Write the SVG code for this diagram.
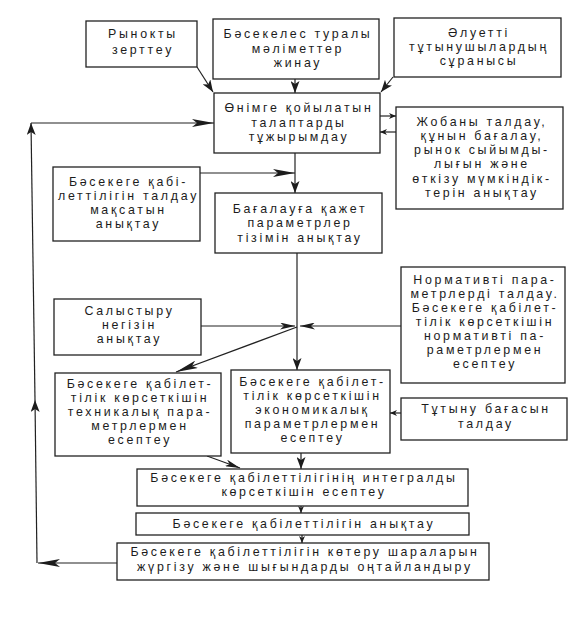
<svg xmlns="http://www.w3.org/2000/svg" width="577" height="619" viewBox="0 0 577 619">
<style>
.b{fill:#fff;stroke:#222;stroke-width:1.3}
.t{font-family:"Liberation Sans",Arial,sans-serif;font-size:12.4px;letter-spacing:2.7px;text-anchor:middle;fill:#1c1c1c}
.c{fill:none;stroke:#222;stroke-width:1.2}
</style>
<defs>
<marker id="aL" markerUnits="userSpaceOnUse" viewBox="0 0 22 8" markerWidth="22" markerHeight="8" refX="22" refY="4" orient="auto"><path d="M0,0 L22,4 L0,8 L5,4 z" fill="#1c1c1c"/></marker>
<marker id="aM" markerUnits="userSpaceOnUse" viewBox="0 0 12 9" markerWidth="12" markerHeight="9" refX="12" refY="4.5" orient="auto"><path d="M0,0 L12,4.5 L0,9 L3,4.5 z" fill="#1c1c1c"/></marker>
<marker id="aK" markerUnits="userSpaceOnUse" viewBox="0 0 15 7" markerWidth="15" markerHeight="7" refX="15" refY="3.5" orient="auto"><path d="M0,0 L15,3.5 L0,7 L4,3.5 z" fill="#1c1c1c"/></marker>
<marker id="aS" markerUnits="userSpaceOnUse" viewBox="0 0 7 6" markerWidth="7" markerHeight="6" refX="7" refY="3" orient="auto"><path d="M0,0 L7,3 L0,6 L2,3 z" fill="#1c1c1c"/></marker>
</defs>
<rect width="577" height="619" fill="#fff"/>
<g id="connectors">
<line class="c" x1="197" y1="67" x2="213" y2="92" marker-end="url(#aM)"/>
<line class="c" x1="295" y1="79" x2="295" y2="93" marker-end="url(#aM)"/>
<line class="c" x1="393" y1="77" x2="381" y2="92" marker-end="url(#aM)"/>
<line class="c" x1="380" y1="116" x2="396" y2="116" marker-end="url(#aS)"/>
<line class="c" x1="396" y1="132" x2="380" y2="132" marker-end="url(#aS)"/>
<line class="c" x1="31" y1="123" x2="214" y2="123" marker-end="url(#aL)"/>
<line class="c" x1="37" y1="563" x2="35" y2="400" marker-end="url(#aM)"/>
<line class="c" x1="35" y1="400" x2="31" y2="123" marker-end="url(#aM)"/>
<line class="c" x1="117" y1="563" x2="38" y2="563" marker-end="url(#aL)"/>
<line class="c" x1="295" y1="153" x2="295" y2="193" marker-end="url(#aM)"/>
<line class="c" x1="200" y1="173" x2="295" y2="173" marker-end="url(#aL)"/>
<line class="c" x1="297" y1="253" x2="297" y2="370" marker-end="url(#aM)"/>
<line class="c" x1="201" y1="326" x2="295" y2="326" marker-end="url(#aK)"/>
<line class="c" x1="401" y1="326" x2="300" y2="326" marker-end="url(#aK)"/>
<line class="c" x1="297" y1="327" x2="176" y2="372" marker-end="url(#aL)"/>
<line class="c" x1="401" y1="413" x2="390" y2="413" marker-end="url(#aS)"/>
<line class="c" x1="207" y1="456" x2="240" y2="468" marker-end="url(#aK)"/>
<line class="c" x1="301" y1="453" x2="301" y2="469" marker-end="url(#aM)"/>
<line class="c" x1="301" y1="506" x2="301" y2="513" marker-end="url(#aS)"/>
<line class="c" x1="302" y1="535" x2="302" y2="543" marker-end="url(#aS)"/>
</g>
<g id="n1"><rect class="b" x="86" y="21" width="111" height="46"/><text class="t"><tspan x="143" y="38">Рынокты</tspan><tspan x="143" y="54">зерттеу</tspan></text></g>
<g id="n2"><rect class="b" x="213" y="19" width="166" height="60"/><text class="t"><tspan x="298" y="38">Бәсекелес туралы</tspan><tspan x="298" y="53">мәліметтер</tspan><tspan x="298" y="67">жинау</tspan></text></g>
<g id="n3"><rect class="b" x="394" y="18" width="167" height="59"/><text class="t"><tspan x="479" y="37">Әлуетті</tspan><tspan x="479" y="51">тұтынушылардың</tspan><tspan x="479" y="65">сұранысы</tspan></text></g>
<g id="n4"><rect class="b" x="214" y="93" width="166" height="60"/><text class="t"><tspan x="299" y="112">Өнімге қойылатын</tspan><tspan x="299" y="127">талаптарды</tspan><tspan x="299" y="141">тұжырымдау</tspan></text></g>
<g id="n5"><rect class="b" x="396" y="107" width="167" height="102"/><text class="t"><tspan x="482" y="125.5">Жобаны талдау,</tspan><tspan x="482" y="139.8">құнын бағалау,</tspan><tspan x="482" y="154.1">рынок сыйымды-</tspan><tspan x="482" y="168.4">лығын және</tspan><tspan x="482" y="182.7">өткізу мүмкіндік-</tspan><tspan x="482" y="197">терін анықтау</tspan></text></g>
<g id="n6"><rect class="b" x="53" y="167" width="147" height="74"/><text class="t"><tspan x="128.5" y="186">Бәсекеге қабі-</tspan><tspan x="128.5" y="200">леттілігін талдау</tspan><tspan x="128.5" y="214">мақсатын</tspan><tspan x="128.5" y="228">анықтау</tspan></text></g>
<g id="n7"><rect class="b" x="215" y="193" width="167" height="60"/><text class="t"><tspan x="300" y="213">Бағалауға қажет</tspan><tspan x="300" y="227">параметрлер</tspan><tspan x="300" y="242">тізімін анықтау</tspan></text></g>
<g id="n8"><rect class="b" x="401" y="267" width="164" height="116"/><text class="t"><tspan x="485" y="284">Нормативті пара-</tspan><tspan x="485" y="298">метрлерді талдау.</tspan><tspan x="485" y="312">Бәсекеге қабілет-</tspan><tspan x="485" y="326">тілік көрсеткішін</tspan><tspan x="485" y="340">нормативті па-</tspan><tspan x="485" y="354">раметрлермен</tspan><tspan x="485" y="368">есептеу</tspan></text></g>
<g id="n9"><rect class="b" x="54" y="299" width="147" height="56"/><text class="t"><tspan x="129.5" y="315">Салыстыру</tspan><tspan x="129.5" y="329">негізін</tspan><tspan x="129.5" y="343">анықтау</tspan></text></g>
<g id="n10"><rect class="b" x="55" y="373" width="166" height="83"/><text class="t"><tspan x="140" y="388">Бәсекеге қабілет-</tspan><tspan x="140" y="402">тілік көрсеткішін</tspan><tspan x="140" y="416">техникалық пара-</tspan><tspan x="140" y="430">метрлермен</tspan><tspan x="140" y="444">есептеу</tspan></text></g>
<g id="n11"><rect class="b" x="231" y="370" width="159" height="83"/><text class="t"><tspan x="312.5" y="386">Бәсекеге қабілет-</tspan><tspan x="312.5" y="400">тілік көрсеткішін</tspan><tspan x="312.5" y="414">экономикалық</tspan><tspan x="312.5" y="428">параметрлермен</tspan><tspan x="312.5" y="442">есептеу</tspan></text></g>
<g id="n12"><rect class="b" x="401" y="398" width="166" height="42"/><text class="t"><tspan x="486" y="413">Тұтыну бағасын</tspan><tspan x="486" y="428">талдау</tspan></text></g>
<g id="n13"><rect class="b" x="137" y="469" width="331" height="37"/><text class="t"><tspan x="304" y="482">Бәсекеге қабілеттілігінің интегралды</tspan><tspan x="304" y="496">көрсеткішін есептеу</tspan></text></g>
<g id="n14"><rect class="b" x="136" y="513" width="333" height="22"/><text class="t" x="304" y="528">Бәсекеге қабілеттілігін анықтау</text></g>
<g id="n15"><rect class="b" x="117" y="543" width="372" height="37"/><text class="t"><tspan x="305" y="556">Бәсекеге қабілеттілігін көтеру шараларын</tspan><tspan x="305" y="570.5">жүргізу және шығындарды оңтайландыру</tspan></text></g>
</svg>
